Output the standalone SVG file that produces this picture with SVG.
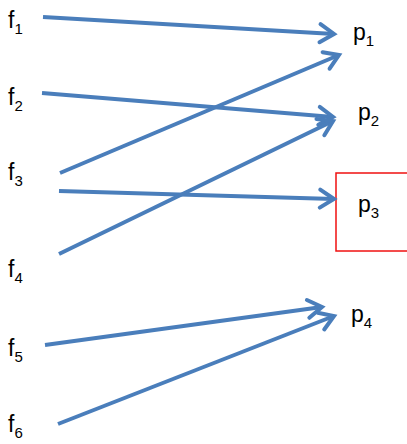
<svg xmlns="http://www.w3.org/2000/svg" width="407" height="444" viewBox="0 0 407 444">
<style>
.lbl{font-family:"Liberation Sans",Arial,sans-serif;font-size:23px;fill:#000}
.sub{font-size:15px}
.c{stroke:#4A7EBB;stroke-width:4;fill:none;marker-end:url(#ah)}
</style>
<defs>
<marker id="ah" markerUnits="userSpaceOnUse" viewBox="-18 -11 22 22" markerWidth="22" markerHeight="22" refX="0" refY="0" orient="auto" overflow="visible">
<path d="M-14,-9 L0,0 L-14,9" stroke="#4A7EBB" stroke-width="4" fill="none" stroke-linecap="round" stroke-linejoin="miter"/>
</marker>
</defs>
<rect width="407" height="444" fill="#fff"/>
<g id="f1"><text class="lbl" x="8" y="28">f<tspan class="sub" dy="6">1</tspan></text></g>
<g id="f2"><text class="lbl" x="8" y="105">f<tspan class="sub" dy="6">2</tspan></text></g>
<g id="f3"><text class="lbl" x="8" y="180">f<tspan class="sub" dy="6">3</tspan></text></g>
<g id="f4"><text class="lbl" x="8" y="277">f<tspan class="sub" dy="6">4</tspan></text></g>
<g id="f5"><text class="lbl" x="8" y="356">f<tspan class="sub" dy="6">5</tspan></text></g>
<g id="f6"><text class="lbl" x="8" y="432">f<tspan class="sub" dy="6">6</tspan></text></g>
<g id="p1"><text class="lbl" x="353" y="40">p<tspan class="sub" dy="6">1</tspan></text></g>
<g id="p2"><text class="lbl" x="358" y="120">p<tspan class="sub" dy="6">2</tspan></text></g>
<g id="p3"><rect x="336" y="173" width="80" height="78" fill="#fff" stroke="#f01010" stroke-width="1.5"/><text class="lbl" x="358" y="212">p<tspan class="sub" dy="6">3</tspan></text></g>
<g id="p4"><text class="lbl" x="351" y="322">p<tspan class="sub" dy="6">4</tspan></text></g>
<g id="connectors">
<line class="c" x1="43" y1="17" x2="334" y2="34"/>
<line class="c" x1="42" y1="93" x2="333" y2="117"/>
<line class="c" x1="60" y1="173" x2="339" y2="55"/>
<line class="c" x1="59" y1="191" x2="334" y2="199"/>
<line class="c" x1="59" y1="254" x2="333" y2="121"/>
<line class="c" x1="45" y1="345" x2="322" y2="307"/>
<line class="c" x1="58" y1="424" x2="334" y2="316"/>
</g>
</svg>
